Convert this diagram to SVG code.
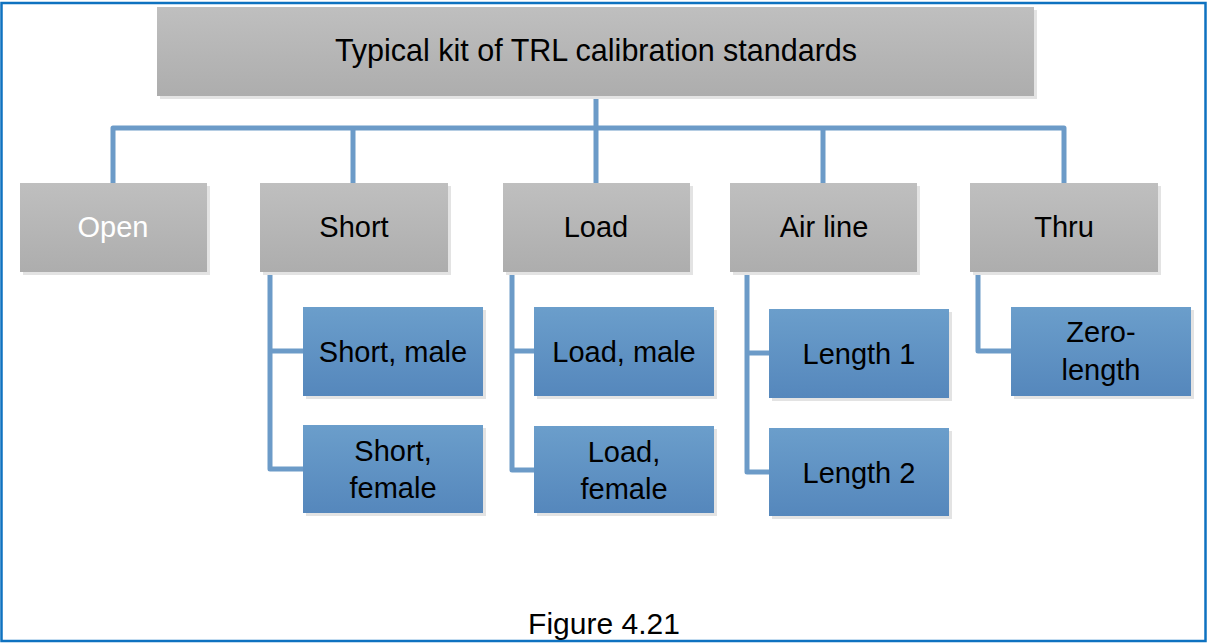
<svg xmlns="http://www.w3.org/2000/svg" width="1207" height="643" viewBox="0 0 1207 643">
<defs>
<linearGradient id="gGray" x1="0" y1="0" x2="0" y2="1"><stop offset="0" stop-color="#BFBFBF"/><stop offset="1" stop-color="#ADADAD"/></linearGradient>
<linearGradient id="gBlue" x1="0" y1="0" x2="0" y2="1"><stop offset="0" stop-color="#6B9ECB"/><stop offset="1" stop-color="#5587BC"/></linearGradient>
<style>
.frame{fill:#FFFFFF;stroke:#0E72C0;stroke-width:2.5}
.shadow{fill:#E3E3E3}
.gray{fill:url(#gGray)}
.blue{fill:url(#gBlue)}
.t{font-family:"Liberation Sans",Arial,sans-serif;font-size:29px;fill:#000000;text-anchor:middle}
.w{fill:#FFFFFF}
.conn{fill:none;stroke:#6C9BC8;stroke-width:5;stroke-linecap:round;stroke-linejoin:round}
</style>
</defs>
<rect class="frame" x="1.5" y="3" width="1204" height="638"/>
<g id="connectors">
<path class="conn" d="M596,96 V128 M113,183 V128 H1064 V183 M353,128 V183 M596,128 V183 M823,128 V183"/>
<path class="conn" d="M270,272 V469 H303 M270,351 H303"/>
<path class="conn" d="M512,272 V470 H534 M512,351 H534"/>
<path class="conn" d="M747,272 V472 H769 M747,353 H769"/>
<path class="conn" d="M978,272 V351 H1011"/>
</g>
<g id="root"><rect class="shadow" x="160" y="10" width="877" height="89"/><rect class="gray" x="157" y="7" width="877" height="89"/><text class="t" x="596" y="61" style="font-size:30.5px">Typical kit of TRL calibration standards</text></g>
<g id="open"><rect class="shadow" x="23" y="186" width="187" height="89"/><rect class="gray" x="20" y="183" width="187" height="89"/><text class="t w" x="113" y="237">Open</text></g>
<g id="short"><rect class="shadow" x="263" y="186" width="188" height="89"/><rect class="gray" x="260" y="183" width="188" height="89"/><text class="t" x="354" y="237">Short</text></g>
<g id="load"><rect class="shadow" x="506" y="186" width="187" height="89"/><rect class="gray" x="503" y="183" width="187" height="89"/><text class="t" x="596" y="237">Load</text></g>
<g id="airline"><rect class="shadow" x="733" y="186" width="187" height="89"/><rect class="gray" x="730" y="183" width="187" height="89"/><text class="t" x="824" y="237">Air line</text></g>
<g id="thru"><rect class="shadow" x="973" y="186" width="188" height="89"/><rect class="gray" x="970" y="183" width="188" height="89"/><text class="t" x="1064" y="237">Thru</text></g>
<g id="short-male"><rect class="shadow" x="306" y="310" width="180" height="89"/><rect class="blue" x="303" y="307" width="180" height="89"/><text class="t" x="393" y="362">Short, male</text></g>
<g id="short-female"><rect class="shadow" x="306" y="428" width="180" height="88"/><rect class="blue" x="303" y="425" width="180" height="88"/><text class="t" x="393" y="461">Short,</text><text class="t" x="393" y="498">female</text></g>
<g id="load-male"><rect class="shadow" x="537" y="310" width="180" height="89"/><rect class="blue" x="534" y="307" width="180" height="89"/><text class="t" x="624" y="362">Load, male</text></g>
<g id="load-female"><rect class="shadow" x="537" y="429" width="180" height="87"/><rect class="blue" x="534" y="426" width="180" height="87"/><text class="t" x="624" y="462">Load,</text><text class="t" x="624" y="499">female</text></g>
<g id="length1"><rect class="shadow" x="772" y="312" width="180" height="89"/><rect class="blue" x="769" y="309" width="180" height="89"/><text class="t" x="859" y="364">Length 1</text></g>
<g id="length2"><rect class="shadow" x="772" y="431" width="180" height="88"/><rect class="blue" x="769" y="428" width="180" height="88"/><text class="t" x="859" y="483">Length 2</text></g>
<g id="zero-length"><rect class="shadow" x="1014" y="310" width="180" height="89"/><rect class="blue" x="1011" y="307" width="180" height="89"/><text class="t" x="1101" y="342">Zero-</text><text class="t" x="1101" y="380">length</text></g>
<text class="t" x="604" y="634" style="font-size:30px">Figure 4.21</text>
</svg>
